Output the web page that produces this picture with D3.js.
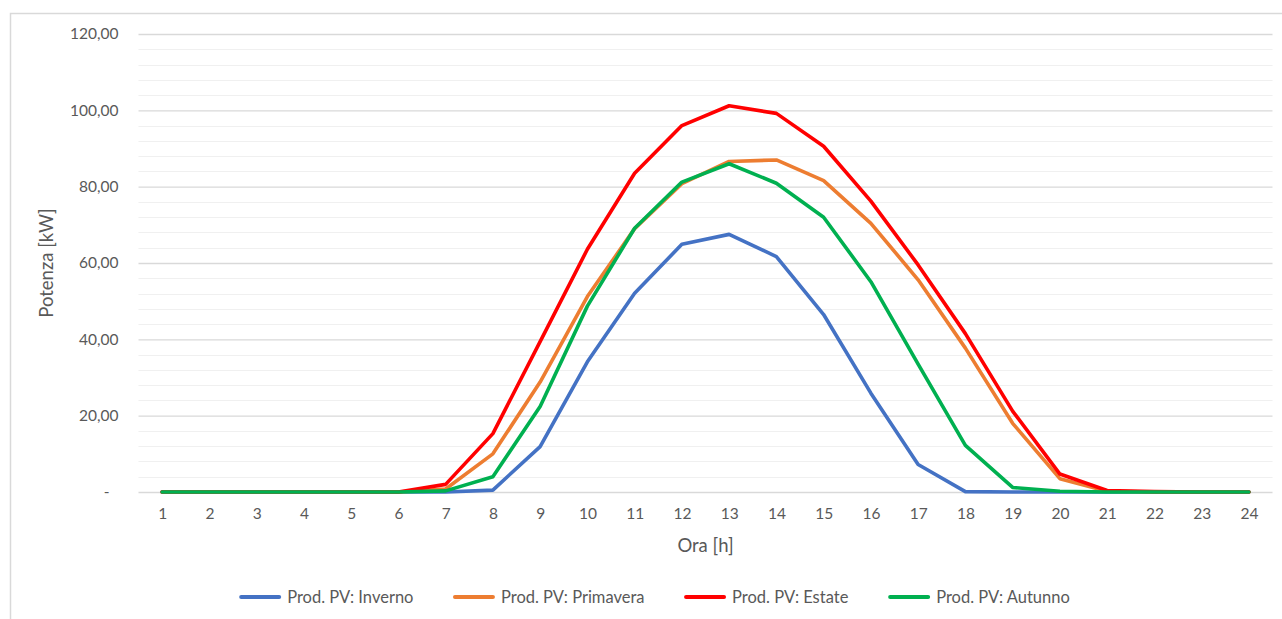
<!DOCTYPE html>
<html>
<head>
<meta charset="utf-8">
<script src="https://cdn.jsdelivr.net/npm/d3@7"></script>
<style>
  html, body { margin: 0; padding: 0; background: #ffffff; }
  svg { display: block; }
  text { font-family: Lato, "Open Sans", sans-serif; fill: #595959; }
</style>
</head>
<body>
<svg id="chart" width="1282" height="619"></svg>
<script>
// Hourly PV output per season (kW)
const hours = [1,2,3,4,5,6,7,8,9,10,11,12,13,14,15,16,17,18,19,20,21,22,23,24];
const inverno   = [0,0,0,0,0,0,0,0.5,11.9,34.1,52.1,64.9,67.5,61.7,46.5,25.9,7.2,0.1,0,0,0,0,0,0];
const primavera = [0,0,0,0,0,0,0.8,10.0,28.8,51.2,69.0,80.8,86.6,87.0,81.6,70.4,55.6,37.7,18.0,3.5,0.2,0,0,0];
const estate    = [0,0,0,0,0,0,2.0,15.3,39.4,63.6,83.5,96.0,101.2,99.2,90.6,76.2,59.5,41.5,21.2,4.7,0.4,0.1,0,0];
const autunno   = [0,0,0,0,0,0,0.3,4.0,22.4,48.7,69.1,81.2,86.0,80.9,72.0,55.1,33.5,12.2,1.2,0.2,0,0,0,0];
const seriesNames = ["Prod. PV: Inverno", "Prod. PV: Primavera", "Prod. PV: Estate", "Prod. PV: Autunno"];
const yTicks = [0, 20, 40, 60, 80, 100, 120];
const xTitle = "Ora [h]";
const yTitle = "Potenza [kW]";

const series = [
  { name: seriesNames[0], values: inverno,   color: "#4472C4" },
  { name: seriesNames[1], values: primavera, color: "#ED7D31" },
  { name: seriesNames[2], values: estate,    color: "#FF0000" },
  { name: seriesNames[3], values: autunno,   color: "#00B050" }
];

const svg = d3.select("#chart");
const plot = { left: 138.5, right: 1272.5, top: 34, bottom: 492 };

// chart frame
svg.append("rect")
  .attr("x", 10.5).attr("y", 13.5)
  .attr("width", 1400).attr("height", 800)
  .attr("fill", "none").attr("stroke", "#d9d9d9").attr("stroke-width", 1.5);

const x = d3.scalePoint().domain(hours).range([plot.left, plot.right]).padding(0.5);
const y = d3.scaleLinear().domain([0, 120]).range([plot.bottom, plot.top]);

// minor gridlines
const minor = d3.range(0, 121, 4).filter(v => v % 20 !== 0);
svg.append("g").selectAll("line").data(minor).join("line")
  .attr("x1", plot.left).attr("x2", plot.right)
  .attr("y1", d => Math.round(y(d)) + 0.5).attr("y2", d => Math.round(y(d)) + 0.5)
  .attr("stroke", "#f0f0f0").attr("stroke-width", 1.2);

// major gridlines + y axis labels
const yAxis = d3.axisLeft(y).tickValues(yTicks).tickSize(0).tickPadding(0)
  .tickFormat(d => d === 0 ? "-" : d3.format(".2f")(d).replace(".", ","));
const gy = svg.append("g").attr("transform", `translate(${plot.left},0)`).call(yAxis);
gy.select(".domain").remove();
gy.selectAll(".tick line").remove();
gy.selectAll(".tick").append("line")
  .attr("x1", 0).attr("x2", plot.right - plot.left)
  .attr("stroke", "#d9d9d9").attr("stroke-width", 1.3);
gy.selectAll(".tick text")
  .attr("x", d => d === 0 ? -29 : -20)
  .attr("font-size", 15.5).attr("fill", "#595959")
  .style("font-family", "Lato, sans-serif");

// x axis labels
const xAxis = d3.axisBottom(x).tickSize(0).tickPadding(16);
const gx = svg.append("g").attr("transform", `translate(0,${plot.bottom})`).call(xAxis);
gx.select(".domain").remove();
gx.selectAll(".tick text").attr("font-size", 15.5).attr("fill", "#595959")
  .style("font-family", "Lato, sans-serif");

// axis titles
svg.append("text").attr("x", (plot.left + plot.right) / 2).attr("y", 552)
  .attr("text-anchor", "middle").attr("font-size", 18.5).text(xTitle);
svg.append("text").attr("transform", `translate(53,${(plot.top + plot.bottom) / 2}) rotate(-90)`)
  .attr("text-anchor", "middle").attr("font-size", 18.5).text(yTitle);

// series lines
const line = d3.line().x((d, i) => x(hours[i])).y(d => y(d));
svg.append("g").selectAll("path").data(series).join("path")
  .attr("d", d => line(d.values))
  .attr("fill", "none")
  .attr("stroke", d => d.color)
  .attr("stroke-width", 3.6)
  .attr("stroke-linejoin", "round")
  .attr("stroke-linecap", "round");

// legend
const legend = svg.append("g");
const items = legend.selectAll("g").data(series).join("g");
items.append("line").attr("x1", 0).attr("x2", 38).attr("y1", 0).attr("y2", 0)
  .attr("stroke", d => d.color).attr("stroke-width", 4).attr("stroke-linecap", "round");
items.append("text").attr("x", 46).attr("y", 5.5).attr("font-size", 16.5).text(d => d.name);
const widths = [];
items.each(function () { widths.push(this.getBBox().width); });
const gap = 41.5;
const total = d3.sum(widths) + gap * (widths.length - 1);
let cx = (plot.left + plot.right) / 2 - total / 2 - 50;
items.attr("transform", (d, i) => {
  const t = `translate(${cx},597)`;
  cx += widths[i] + gap;
  return t;
});
</script>
</body>
</html>
